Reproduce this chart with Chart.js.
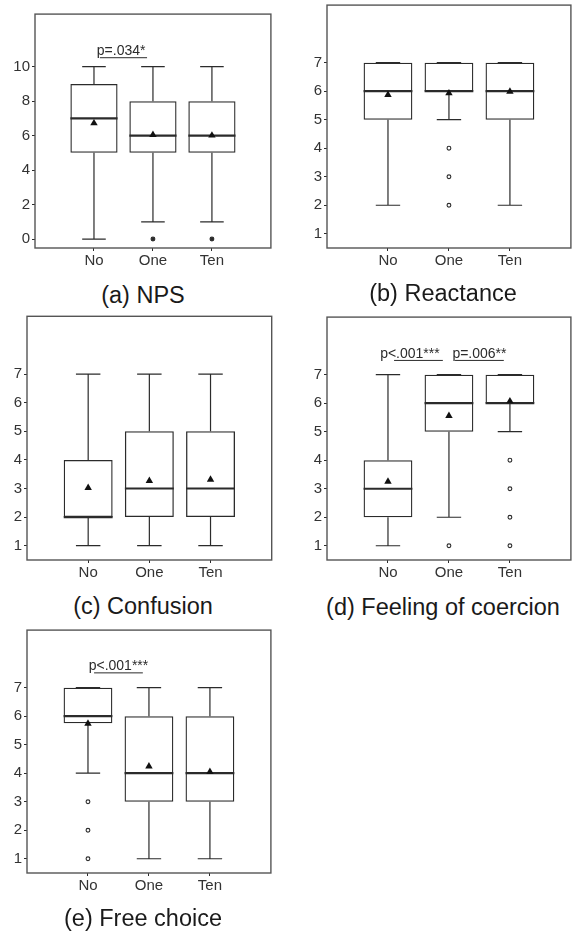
<!DOCTYPE html>
<html><head><meta charset="utf-8">
<script src="https://cdn.jsdelivr.net/npm/chart.js@4.4.1/dist/chart.umd.min.js"></script>
<style>
html,body{margin:0;padding:0;background:#fff;width:573px;height:933px;overflow:hidden;position:relative;}
canvas{position:absolute;}
.cap{position:absolute;font-family:"Liberation Sans",Arial,sans-serif;font-size:23.5px;color:#1a1a1a;line-height:28px;text-align:center;width:300px;white-space:nowrap;}
</style></head><body>
<canvas id="ca"></canvas><canvas id="cb"></canvas><canvas id="cc"></canvas><canvas id="cd"></canvas><canvas id="ce"></canvas>
<div class="cap" style="left:-7px;top:281px">(a) NPS</div>
<div class="cap" style="left:293px;top:279px">(b) Reactance</div>
<div class="cap" style="left:-7px;top:592px">(c) Confusion</div>
<div class="cap" style="left:293px;top:593px">(d) Feeling of coercion</div>
<div class="cap" style="left:-7px;top:904px">(e) Free choice</div>
<script>
// ---- categories ----
const groups = ['No', 'One', 'Ten'];

// ---- (a) NPS ----
const npsMin  = [0, 1, 1];
const npsQ1   = [5, 5, 5];
const npsMed  = [7, 6, 6];
const npsQ3   = [9, 8, 8];
const npsMax  = [10, 10, 10];
const npsMean = [6.72, 6.05, 6.01];
const npsOut  = [[], [0], [0]];
const npsTicks = [0, 2, 4, 6, 8, 10];

// ---- (b) Reactance ----
const reaMin  = [2, 5, 2];
const reaQ1   = [5, 6, 5];
const reaMed  = [6, 6, 6];
const reaQ3   = [7, 7, 7];
const reaMax  = [7, 7, 7];
const reaMean = [5.87, 5.93, 5.99];
const reaOut  = [[], [4, 3, 2], []];

// ---- (c) Confusion ----
const conMin  = [1, 1, 1];
const conQ1   = [2, 2, 2];
const conMed  = [2, 3, 3];
const conQ3   = [4, 5, 5];
const conMax  = [7, 7, 7];
const conMean = [3.02, 3.27, 3.31];
const conOut  = [[], [], []];

// ---- (d) Feeling of coercion ----
const coeMin  = [1, 2, 5];
const coeQ1   = [2, 5, 6];
const coeMed  = [3, 6, 6];
const coeQ3   = [4, 7, 7];
const coeMax  = [7, 7, 7];
const coeMean = [3.25, 5.56, 6.07];
const coeOut  = [[], [1], [4, 3, 2, 1]];

// ---- (e) Free choice ----
const freMin  = [4, 1, 1];
const freQ1   = [5.75, 3, 3];
const freMed  = [6, 4, 4];
const freQ3   = [7, 6, 6];
const freMax  = [7, 7, 7];
const freMean = [5.74, 4.24, 4.05];
const freOut  = [[3, 2, 1], [], []];

const likertTicks = [1, 2, 3, 4, 5, 6, 7];

// ---- significance labels ----
const npsSig = [{from: 1, to: 2, y: 10.52, text: 'p=.034*', shift: -0.04}];
const coeSig = [{from: 1, to: 2, y: 7.5, text: 'p<.001***', shift: -0.14},
                {from: 2, to: 3, y: 7.5, text: 'p=.006**', shift: 0}];
const freSig = [{from: 1, to: 2, y: 7.52, text: 'p<.001***', shift: 0}];

const INK = '#2b2b2b';
Chart.defaults.font.family = '"Liberation Sans", Arial, sans-serif';

const boxPlugin = {
  id: 'boxExtras',
  beforeDatasetsDraw(chart) {
    const o = chart.options.plugins.boxExtras;
    const xs = chart.scales.x, ys = chart.scales.y, ctx = chart.ctx;
    ctx.save();
    ctx.strokeStyle = INK;
    ctx.lineCap = 'butt';
    o.min.forEach((mn, i) => {
      const c = i + 1;
      const cx = xs.getPixelForValue(c);
      const capL = xs.getPixelForValue(c - 0.2), capR = xs.getPixelForValue(c + 0.2);
      ctx.lineWidth = 1.2;
      ctx.beginPath();
      ctx.moveTo(cx, ys.getPixelForValue(o.q1[i])); ctx.lineTo(cx, ys.getPixelForValue(mn));
      ctx.moveTo(capL, ys.getPixelForValue(mn)); ctx.lineTo(capR, ys.getPixelForValue(mn));
      ctx.moveTo(cx, ys.getPixelForValue(o.q3[i])); ctx.lineTo(cx, ys.getPixelForValue(o.max[i]));
      ctx.moveTo(capL, ys.getPixelForValue(o.max[i])); ctx.lineTo(capR, ys.getPixelForValue(o.max[i]));
      ctx.stroke();
      ctx.lineWidth = 2.2;
      ctx.beginPath();
      const my = ys.getPixelForValue(o.med[i]);
      ctx.moveTo(xs.getPixelForValue(c - 0.4), my); ctx.lineTo(xs.getPixelForValue(c + 0.4), my);
      ctx.stroke();
    });
    ctx.restore();
  },
  afterDraw(chart) {
    const o = chart.options.plugins.boxExtras;
    const xs = chart.scales.x, ys = chart.scales.y, ctx = chart.ctx, a = chart.chartArea;
    ctx.save();
    ctx.strokeStyle = '#555';
    ctx.lineWidth = 1.4;
    ctx.strokeRect(a.left, a.top, a.right - a.left, a.bottom - a.top);
    (o.sig || []).forEach(s => {
      const y = ys.getPixelForValue(s.y);
      ctx.strokeStyle = INK; ctx.lineWidth = 1;
      ctx.beginPath();
      ctx.moveTo(xs.getPixelForValue(s.from + 0.1), y);
      ctx.lineTo(xs.getPixelForValue(s.to - 0.1), y);
      ctx.stroke();
      ctx.fillStyle = INK;
      ctx.font = '14px "Liberation Sans", Arial, sans-serif';
      ctx.textAlign = 'center';
      ctx.textBaseline = 'alphabetic';
      ctx.fillText(s.text, xs.getPixelForValue((s.from + s.to) / 2 + s.shift), y - 2.5);
    });
    ctx.restore();
  }
};

function makePanel(id, frame, yMin, yMax, yTicks, st, sig, outFill) {
  const [L, T, R, B] = frame;
  const cv = document.getElementById(id);
  const W = R - L + 44, H = B - T + 36;
  cv.width = W; cv.height = H;
  cv.style.left = (L - 40) + 'px'; cv.style.top = (T - 4) + 'px';
  cv.style.width = W + 'px'; cv.style.height = H + 'px';
  const outliers = [];
  st.out.forEach((arr, i) => arr.forEach(v => outliers.push({x: i + 1, y: v})));
  new Chart(cv, {
    type: 'bar',
    data: {
      datasets: [
        {type: 'bar', data: groups.map((g, i) => ({x: i + 1, y: [st.q1[i], st.q3[i]]})),
         backgroundColor: 'rgba(255,255,255,0)', borderColor: INK, borderWidth: 1.3,
         borderSkipped: false, barPercentage: 0.8, categoryPercentage: 1, order: 3},
        {type: 'scatter', data: outliers, pointStyle: 'circle', pointRadius: 1.9,
         borderColor: INK, borderWidth: 1.1, backgroundColor: outFill, order: 2},
        {type: 'scatter', data: groups.map((g, i) => ({x: i + 1, y: st.mean[i]})),
         pointStyle: 'triangle', pointRadius: 4.3, borderWidth: 0,
         backgroundColor: '#111', borderColor: '#111', order: 1}
      ]
    },
    options: {
      responsive: false, animation: false, devicePixelRatio: 1,
      layout: {padding: {top: 4, right: 4, bottom: 4, left: 0}},
      plugins: {legend: {display: false}, tooltip: {enabled: false},
        boxExtras: {min: st.min, q1: st.q1, med: st.med, q3: st.q3, max: st.max, sig: sig}},
      scales: {
        x: {type: 'linear', min: 0, max: 4, offset: false,
            afterBuildTicks: s => { s.ticks = groups.map((g, i) => ({value: i + 1})); },
            afterFit: s => { s.height = 28; s.paddingLeft = 0; s.paddingRight = 0; },
            ticks: {callback: v => groups[v - 1], color: '#333', font: {size: 15}, padding: 1, maxRotation: 0, autoSkip: false},
            grid: {offset: false, drawOnChartArea: false, tickLength: 3, color: INK, lineWidth: 1},
            border: {display: false}},
        y: {type: 'linear', min: yMin, max: yMax,
            afterBuildTicks: s => { s.ticks = yTicks.map(v => ({value: v})); },
            afterFit: s => { s.width = 40; s.paddingTop = 0; s.paddingBottom = 0; },
            ticks: {color: '#333', font: {size: 15}, padding: 2, autoSkip: false},
            grid: {drawOnChartArea: false, tickLength: 3, color: INK, lineWidth: 1},
            border: {display: false}}
      }
    },
    plugins: [boxPlugin]
  });
}

makePanel('ca', [35, 13, 272, 248], -0.52, 13.05, npsTicks,
  {min: npsMin, q1: npsQ1, med: npsMed, q3: npsQ3, max: npsMax, mean: npsMean, out: npsOut}, npsSig, INK);
makePanel('cb', [327, 4, 572, 248], 0.5, 9.02, likertTicks,
  {min: reaMin, q1: reaQ1, med: reaMed, q3: reaQ3, max: reaMax, mean: reaMean, out: reaOut}, [], '#fff');
makePanel('cc', [27, 316, 272, 560], 0.5, 9.02, likertTicks,
  {min: conMin, q1: conQ1, med: conMed, q3: conQ3, max: conMax, mean: conMean, out: conOut}, [], '#fff');
makePanel('cd', [327, 316, 572, 560], 0.5, 9.02, likertTicks,
  {min: coeMin, q1: coeQ1, med: coeMed, q3: coeQ3, max: coeMax, mean: coeMean, out: coeOut}, coeSig, '#fff');
makePanel('ce', [27, 629, 272, 873], 0.5, 9.02, likertTicks,
  {min: freMin, q1: freQ1, med: freMed, q3: freQ3, max: freMax, mean: freMean, out: freOut}, freSig, '#fff');
</script>
</body></html>
